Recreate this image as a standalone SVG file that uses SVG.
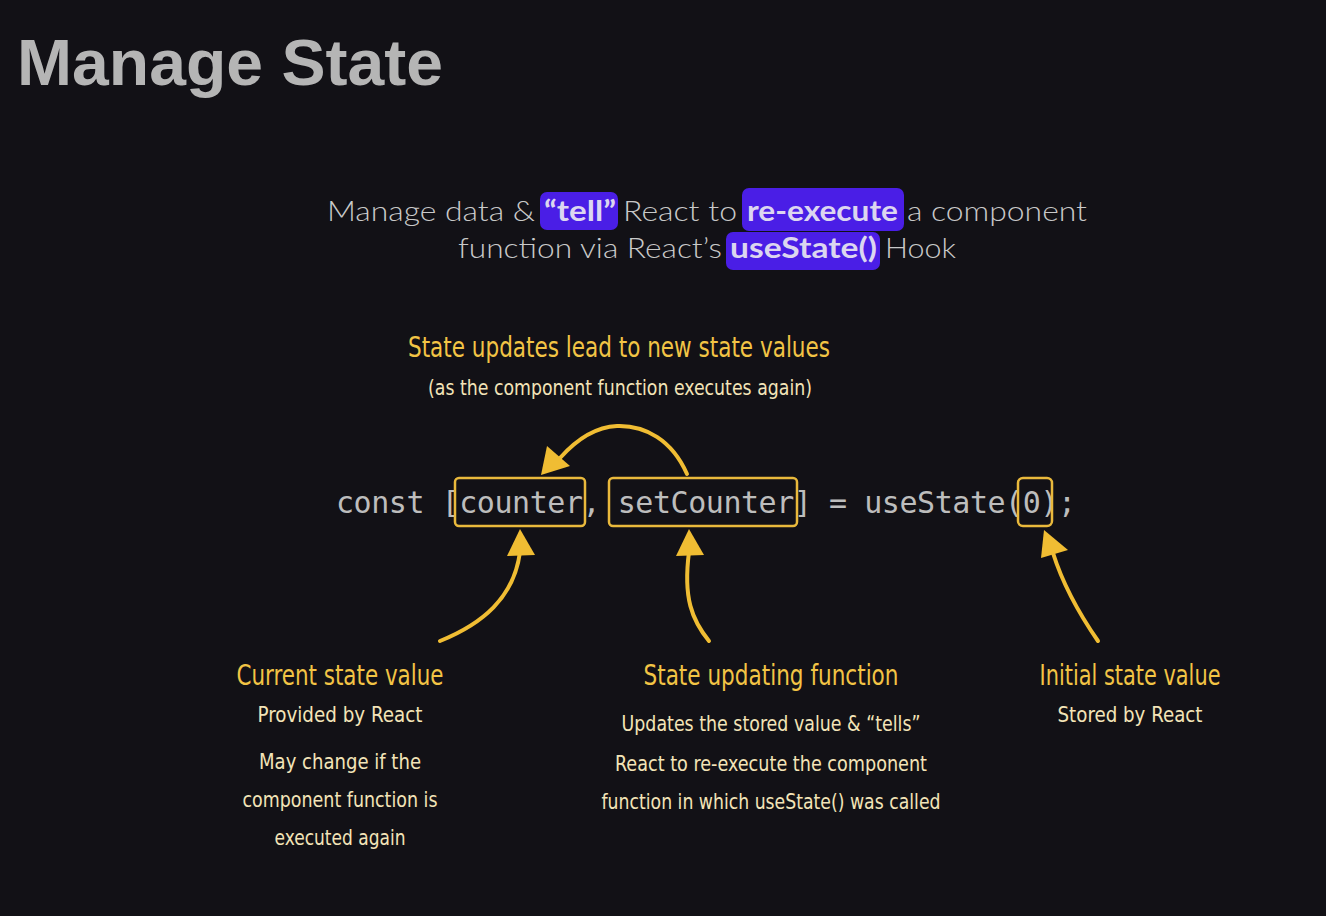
<svg xmlns="http://www.w3.org/2000/svg" width="1326" height="916" viewBox="0 0 1326 916">
  <style>
    .title { font-family: "Liberation Sans", Arial, sans-serif; font-weight: 700; fill: #b5b5b5; }
    .sub { font-family: Lato, "Open Sans", sans-serif; font-size: 28px; font-weight: 300; fill: #c9c9c9; }
    .subb { font-family: Lato, "Open Sans", sans-serif; font-size: 28px; font-weight: 700; fill: #dcd6f0; }
    .hl { fill: #4a1ee6; }
    .code { font-family: "DejaVu Sans Mono", "Liberation Mono", monospace; font-size: 30px; fill: #bdbdbd; }
    .hand { font-family: "Liberation Sans Narrow", "DejaVu Sans Condensed", "Liberation Sans", sans-serif; text-anchor: middle; }
    .head { font-size: 28px; fill: #f2c445; }
    .note { font-size: 22px; fill: #f3e4b8; }
    .box { fill: none; stroke: #e9b93c; stroke-width: 2.5; }
    .shaft { fill: none; stroke: #f0bd33; stroke-width: 4; stroke-linecap: round; }
    .tip { fill: #f0bd33; }
  </style>
  <rect width="1326" height="916" fill="#121116"/>

  <!-- heading -->
  <text class="title" x="17" y="85" font-size="64" textLength="426" lengthAdjust="spacingAndGlyphs">Manage State</text>

  <!-- intro sentence with highlighted keywords -->
  <g id="intro">
    <rect class="hl" x="540" y="192" width="78" height="38" rx="7"/>
    <rect class="hl" x="742" y="188" width="162" height="43" rx="7"/>
    <rect class="hl" x="726" y="232" width="154" height="38" rx="7"/>
    <text class="sub" x="327" y="221" textLength="208" lengthAdjust="spacingAndGlyphs">Manage data &amp;</text>
    <text class="subb" x="544" y="221" textLength="72" lengthAdjust="spacingAndGlyphs">“tell”</text>
    <text class="sub" x="623" y="221" textLength="114" lengthAdjust="spacingAndGlyphs">React to</text>
    <text class="subb" x="747" y="221" textLength="151" lengthAdjust="spacingAndGlyphs">re-execute</text>
    <text class="sub" x="907" y="221" textLength="180" lengthAdjust="spacingAndGlyphs">a component</text>
    <text class="sub" x="458" y="258" textLength="264" lengthAdjust="spacingAndGlyphs">function via React’s</text>
    <text class="subb" x="730" y="258" textLength="147" lengthAdjust="spacingAndGlyphs">useState()</text>
    <text class="sub" x="885" y="258" textLength="71" lengthAdjust="spacingAndGlyphs">Hook</text>
  </g>

  <!-- caption above the code -->
  <g id="update-note" class="hand">
    <text class="head" x="619" y="357" textLength="422" lengthAdjust="spacingAndGlyphs">State updates lead to new state values</text>
    <text class="note" x="620" y="395" textLength="384" lengthAdjust="spacingAndGlyphs">(as the component function executes again)</text>
  </g>

  <!-- code line -->
  <g id="code">
    <text class="code" x="336" y="513" textLength="740" lengthAdjust="spacing">const [counter, setCounter] = useState(0);</text>
  </g>
  <g id="box-counter"><rect class="box" x="455" y="478" width="130" height="48" rx="4"/></g>
  <g id="box-setcounter"><rect class="box" x="609" y="478" width="188" height="48" rx="4"/></g>
  <g id="box-initial"><rect class="box" x="1018" y="478" width="34" height="48" rx="5"/></g>

  <!-- connectors -->
  <g id="connectors">
    <path class="shaft" d="M687,474 C672,440 645,425 617,426 C596,427 576,440 560,458"/>
    <polygon class="tip" points="547,446 570,466 541,475"/>

    <path class="shaft" d="M520,552 C514,598 482,624 440,641"/>
    <polygon class="tip" points="520,529 535,555 507,556"/>

    <path class="shaft" d="M689,552 C683,598 692,620 709,641"/>
    <polygon class="tip" points="689,529 704,555 676,556"/>

    <path class="shaft" d="M1053,553 C1064,588 1080,615 1098,641"/>
    <polygon class="tip" points="1044,530 1068,550 1041,558"/>
  </g>

  <!-- labels under the code -->
  <g id="current-state" class="hand">
    <text class="head" x="340" y="685" textLength="207" lengthAdjust="spacingAndGlyphs">Current state value</text>
    <text class="note" x="340" y="722" textLength="165" lengthAdjust="spacingAndGlyphs">Provided by React</text>
    <text class="note" x="340" y="769" textLength="162" lengthAdjust="spacingAndGlyphs">May change if the</text>
    <text class="note" x="340" y="807" textLength="195" lengthAdjust="spacingAndGlyphs">component function is</text>
    <text class="note" x="340" y="845" textLength="131" lengthAdjust="spacingAndGlyphs">executed again</text>
  </g>
  <g id="updating-function" class="hand">
    <text class="head" x="771" y="685" textLength="255" lengthAdjust="spacingAndGlyphs">State updating function</text>
    <text class="note" x="771" y="731" textLength="299" lengthAdjust="spacingAndGlyphs">Updates the stored value &amp; “tells”</text>
    <text class="note" x="771" y="771" textLength="312" lengthAdjust="spacingAndGlyphs">React to re-execute the component</text>
    <text class="note" x="771" y="809" textLength="339" lengthAdjust="spacingAndGlyphs">function in which useState() was called</text>
  </g>
  <g id="initial-state" class="hand">
    <text class="head" x="1130" y="685" textLength="181" lengthAdjust="spacingAndGlyphs">Initial state value</text>
    <text class="note" x="1130" y="722" textLength="145" lengthAdjust="spacingAndGlyphs">Stored by React</text>
  </g>
</svg>
